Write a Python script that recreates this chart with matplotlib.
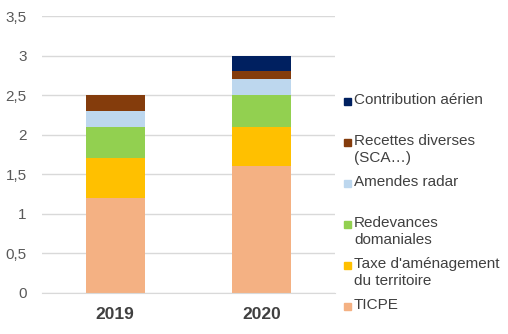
import numpy as np
import matplotlib.pyplot as plt
from matplotlib.patches import Rectangle

plt.rcParams['font.family'] = ['Liberation Sans', 'DejaVu Sans']

# data (milliards d'euros), bottom to top of each stack
years = ['2019', '2020']
series = ['TICPE', "Taxe d'aménagement\ndu territoire", 'Redevances\ndomaniales',
          'Amendes radar', 'Recettes diverses\n(SCA…)', 'Contribution aérien']
ticpe = [1.2, 1.6]
taxe_amenagement = [0.5, 0.5]
redevances = [0.4, 0.4]
amendes_radar = [0.2, 0.2]
recettes_diverses = [0.2, 0.1]
contribution_aerien = [0.0, 0.2]
colors = ['#F4B183', '#FFC000', '#92D050', '#BDD7EE', '#843C0C', '#002060']
yticks = [0, 0.5, 1, 1.5, 2, 2.5, 3, 3.5]
ytick_labels = ['0', '0,5', '1', '1,5', '2', '2,5', '3', '3,5']

values = [ticpe, taxe_amenagement, redevances, amendes_radar,
          recettes_diverses, contribution_aerien]

fig = plt.figure(figsize=(5.08, 3.34), dpi=100)
ax = fig.add_axes([42 / 508, 1 - 293 / 334, 293 / 508, 277 / 334])

x = np.arange(len(years))
bottom = np.zeros(len(years))
for vals, col in zip(values, colors):
    ax.bar(x, vals, 0.4, bottom=bottom, color=col, zorder=2)
    bottom += np.array(vals)

ax.set_xlim(-0.5, 1.5)
ax.set_ylim(0, 3.5)
ax.set_yticks(yticks)
ax.set_yticklabels(ytick_labels, color='#595959', fontsize=11)
ax.set_xticks(x)
ax.set_xticklabels(years, fontsize=12.5, fontweight='bold', color='#404040')
ax.tick_params(axis='y', length=0, pad=11)
ax.tick_params(axis='x', length=0, pad=10)
ax.grid(axis='y', color='#D9D9D9', linewidth=1, zorder=0)
for s in ax.spines.values():
    s.set_visible(False)
ax.spines['bottom'].set_visible(True)
ax.spines['bottom'].set_color('#D9D9D9')

# legend drawn by hand, Excel style: one slot per series, top = last series
slot_top = 93
slot_h = 41
for i, (name, col) in enumerate(zip(series[::-1], colors[::-1])):
    ytop = slot_top + i * slot_h
    fig.patches.append(Rectangle((344 / 508, 1 - (ytop + 12) / 334), 7 / 508, 7 / 334,
                                 transform=fig.transFigure, color=col))
    fig.text(354 / 508, 1 - ytop / 334, name, fontsize=11, color='#404040',
             va='top', ha='left', linespacing=1.25)

fig.savefig('out.png', dpi=100)
